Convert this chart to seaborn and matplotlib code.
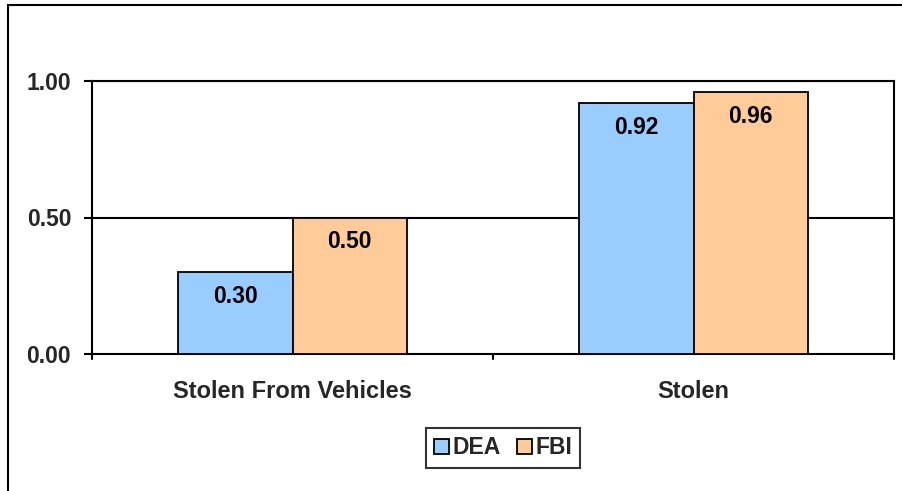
import matplotlib
matplotlib.use("Agg")
import matplotlib.pyplot as plt
import seaborn as sns
import pandas as pd
from matplotlib.patches import Rectangle

categories = ["Stolen From Vehicles", "Stolen"]
series = ["DEA", "FBI"]
dea_values = [0.30, 0.92]
fbi_values = [0.50, 0.96]
y_ticks = [0.0, 0.5, 1.0]
colors = ["#99CCFF", "#FFCC99"]

df = pd.DataFrame({
    "category": categories * 2,
    "agency": [series[0]] * 2 + [series[1]] * 2,
    "value": dea_values + fbi_values,
})

sns.set_theme(style="white")
plt.rcParams["font.family"] = ["Liberation Sans", "DejaVu Sans"]
plt.rcParams["font.weight"] = "bold"

FS = 16.5

fig = plt.figure(figsize=(9.02, 4.91), dpi=100)
ax = fig.add_axes([92/902, 1-354/491, (894-92)/902, (354-81)/491])

sns.barplot(data=df, x="category", y="value", hue="agency", order=categories,
            hue_order=series, palette=colors, width=0.57, saturation=1,
            edgecolor="black", linewidth=1.3, ax=ax, zorder=3)

ax.set_ylim(0, 1.0)
ax.set_xlim(-0.5, 1.5)
ax.set_yticks(y_ticks)
ax.set_yticklabels([f"{v:.2f}" for v in y_ticks], fontsize=FS, fontweight="bold")
for y in y_ticks[1:]:
    ax.axhline(y, color="black", lw=1.5, zorder=1)

ax.set_xticks([0, 1])
ax.set_xticklabels(categories, fontsize=17, fontweight="bold")
ax.tick_params(axis="x", length=0, pad=19)
ax.tick_params(axis="y", length=6, width=1.5, color="black", left=True, pad=9)
for xv in [-0.5, 0.5, 1.5]:
    ax.plot([xv, xv], [0, -0.02], color="black", lw=1.5, clip_on=False,
            transform=ax.transData)
ax.set_xlabel("")
ax.set_ylabel("")
for s in ax.spines.values():
    s.set_color("black")
    s.set_linewidth(1.5)
    s.set_visible(True)

for cont in ax.containers:
    for bar in cont:
        h = bar.get_height()
        ax.annotate(f"{h:.2f}", (bar.get_x() + bar.get_width()/2, h),
                    xytext=(0, -17.5), textcoords="offset points",
                    ha="center", va="center", fontsize=FS, fontweight="bold",
                    color="black", zorder=5)

leg = ax.legend(loc="center", bbox_to_anchor=(503/902, 1-448/491),
                bbox_transform=fig.transFigure, ncol=2, frameon=True,
                fancybox=False, edgecolor="black", fontsize=FS,
                handlelength=0.65, handleheight=0.65, handletextpad=0.15,
                columnspacing=0.7, borderpad=0.35, borderaxespad=0)
leg.get_frame().set_linewidth(1.5)
for t in leg.get_texts():
    t.set_fontweight("bold")

fig.patches.append(Rectangle((8/902, -0.01), 1.0, 1-5/491 + 0.01,
                             transform=fig.transFigure, fill=False,
                             edgecolor="black", lw=1.5))

fig.savefig("out.png", dpi=100)
